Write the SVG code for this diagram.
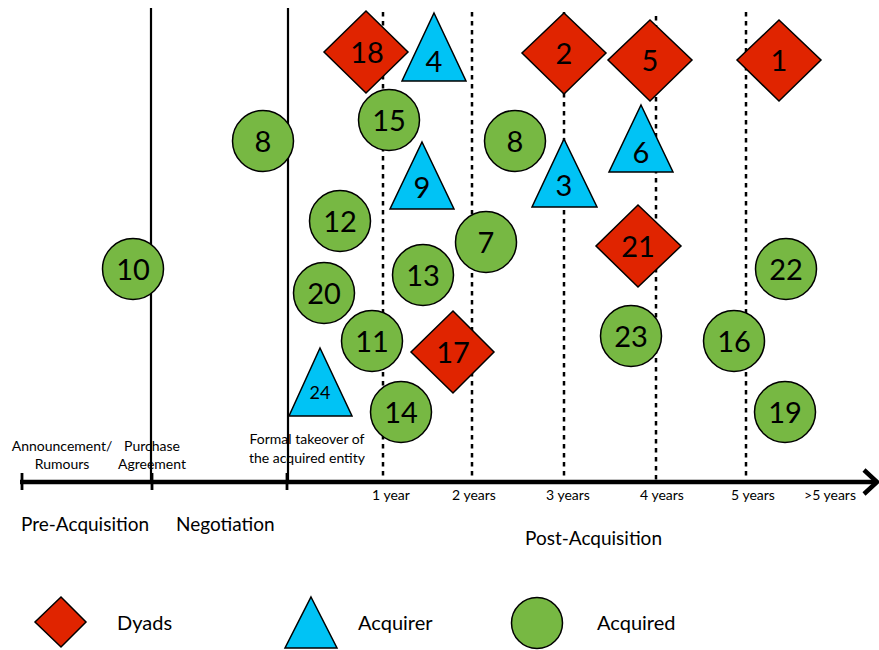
<svg xmlns="http://www.w3.org/2000/svg" width="879" height="650" viewBox="0 0 879 650">
  <style>
    .dyad { fill: #E02400; stroke: #000; stroke-width: 1.5; }
    .acq { fill: #00C3F5; stroke: #000; stroke-width: 1.5; }
    .acd { fill: #77B843; stroke: #000; stroke-width: 1.5; }
    .num { font-family: Lato, "Open Sans", sans-serif; font-size: 29px; fill: #000; text-anchor: middle; }
    .small { font-family: Lato, "Open Sans", sans-serif; font-size: 14px; fill: #000; text-anchor: middle; }
    .phase { font-family: Lato, "Open Sans", sans-serif; font-size: 19px; fill: #000; }
    .legend { font-family: Lato, "Open Sans", sans-serif; font-size: 20px; fill: #000; }
    .solid { stroke: #000; stroke-width: 2.2; fill: none; }
    .dash { stroke: #000; stroke-width: 2.5; stroke-dasharray: 4.5 4.5; fill: none; }
  </style>

  <!-- timeline: axis, phase boundaries and yearly markers -->
  <g id="connectors">
    <line class="solid" x1="151" y1="8" x2="151" y2="482"/>
    <line class="solid" x1="288" y1="8" x2="288" y2="482"/>
    <line class="dash" x1="383" y1="12" x2="383" y2="480"/>
    <line class="dash" x1="472" y1="12" x2="472" y2="480"/>
    <line class="dash" x1="564" y1="12" x2="564" y2="480"/>
    <line class="dash" x1="656" y1="16" x2="656" y2="480"/>
    <line class="dash" x1="746" y1="12" x2="746" y2="480"/>
    <line x1="20" y1="482" x2="875" y2="482" stroke="#000" stroke-width="4.5"/>
    <polyline points="864,470 877,482 864,494" fill="none" stroke="#000" stroke-width="4.5"/>
    <line x1="22" y1="473" x2="22" y2="490" stroke="#000" stroke-width="2.8"/>
    <line x1="152" y1="473" x2="152" y2="490" stroke="#000" stroke-width="2.8"/>
    <line x1="287" y1="473" x2="287" y2="490" stroke="#000" stroke-width="2.8"/>
  </g>

  <!-- axis labels -->
  <g id="axis-labels">
    <text class="small" x="62" y="451">Announcement/</text>
    <text class="small" x="62" y="469">Rumours</text>
    <text class="small" x="152" y="451">Purchase</text>
    <text class="small" x="152" y="469">Agreement</text>
    <text class="small" x="307" y="444">Formal takeover of</text>
    <text class="small" x="307" y="463">the acquired entity</text>
    <text class="small" x="391" y="500">1 year</text>
    <text class="small" x="474" y="500">2 years</text>
    <text class="small" x="568" y="500">3 years</text>
    <text class="small" x="662" y="500">4 years</text>
    <text class="small" x="753" y="500">5 years</text>
    <text class="small" x="830" y="500">&gt;5 years</text>
    <text class="phase" x="21" y="531">Pre-Acquisition</text>
    <text class="phase" x="176" y="531">Negotiation</text>
    <text class="phase" x="525" y="545">Post-Acquisition</text>
  </g>

  <!-- dyads -->
  <g id="d18"><polygon class="dyad" points="366,11 408,52 366,93 324,52"/><text class="num" x="367" y="63">18</text></g>
  <g id="d2"><polygon class="dyad" points="564,13 606,53 564,94 522,53"/><text class="num" x="564" y="64">2</text></g>
  <g id="d5"><polygon class="dyad" points="650,20 692,60 650,101 608,60"/><text class="num" x="650" y="71">5</text></g>
  <g id="d1"><polygon class="dyad" points="779,20 821,60 779,101 737,60"/><text class="num" x="779" y="71">1</text></g>
  <g id="d21"><polygon class="dyad" points="638,205 681,246 638,287 596,246"/><text class="num" x="638" y="257">21</text></g>
  <g id="d17"><polygon class="dyad" points="453,311 494,352 453,393 411,352"/><text class="num" x="453" y="363">17</text></g>

  <!-- acquirers -->
  <g id="a4"><polygon class="acq" points="434,13 466,81 402,81"/><text class="num" x="434" y="72">4</text></g>
  <g id="a9"><polygon class="acq" points="422,142 454,209 390,209"/><text class="num" x="422" y="198">9</text></g>
  <g id="a3"><polygon class="acq" points="564,139 597,207 532,207"/><text class="num" x="564" y="196">3</text></g>
  <g id="a6"><polygon class="acq" points="641,105 673,172 609,172"/><text class="num" x="641" y="163">6</text></g>
  <g id="a24"><polygon class="acq" points="320,348 352,416 289,416"/><text class="num" x="320" y="399" style="font-size:18px">24</text></g>

  <!-- acquired -->
  <g id="c8a"><circle class="acd" cx="263" cy="141" r="30.5"/><text class="num" x="263" y="152">8</text></g>
  <g id="c15"><circle class="acd" cx="389" cy="120" r="30.5"/><text class="num" x="389" y="131">15</text></g>
  <g id="c8b"><circle class="acd" cx="515" cy="141" r="30.5"/><text class="num" x="515" y="152">8</text></g>
  <g id="c12"><circle class="acd" cx="340" cy="221" r="30.5"/><text class="num" x="340" y="232">12</text></g>
  <g id="c7"><circle class="acd" cx="486" cy="242" r="30.5"/><text class="num" x="486" y="253">7</text></g>
  <g id="c10"><circle class="acd" cx="133" cy="269" r="30.5"/><text class="num" x="133" y="280">10</text></g>
  <g id="c13"><circle class="acd" cx="423" cy="275" r="30.5"/><text class="num" x="423" y="286">13</text></g>
  <g id="c20"><circle class="acd" cx="324" cy="293" r="30.5"/><text class="num" x="324" y="304">20</text></g>
  <g id="c22"><circle class="acd" cx="786" cy="269" r="30.5"/><text class="num" x="786" y="280">22</text></g>
  <g id="c11"><circle class="acd" cx="372" cy="341" r="30.5"/><text class="num" x="372" y="352">11</text></g>
  <g id="c23"><circle class="acd" cx="631" cy="336" r="30.5"/><text class="num" x="631" y="347">23</text></g>
  <g id="c16"><circle class="acd" cx="734" cy="341" r="30.5"/><text class="num" x="734" y="352">16</text></g>
  <g id="c14"><circle class="acd" cx="401" cy="412" r="30.5"/><text class="num" x="401" y="423">14</text></g>
  <g id="c19"><circle class="acd" cx="785" cy="412" r="30.5"/><text class="num" x="785" y="423">19</text></g>

  <!-- legend -->
  <g id="legend-dyads"><polygon class="dyad" points="61,597 86,622 61,647 35,622"/><text class="legend" x="117" y="630">Dyads</text></g>
  <g id="legend-acquirer"><polygon class="acq" points="311,597 337,648 285,648"/><text class="legend" x="358" y="630">Acquirer</text></g>
  <g id="legend-acquired"><circle class="acd" cx="537" cy="623" r="25.5"/><text class="legend" x="597" y="630">Acquired</text></g>
</svg>
